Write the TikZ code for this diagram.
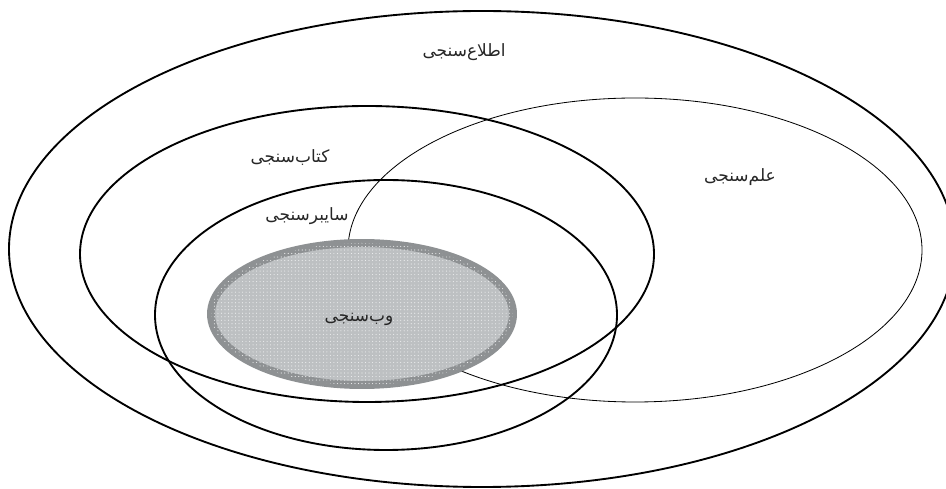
\documentclass[tikz,border=0pt]{standalone}
\usepackage{fontspec}
\newfontfamily\arabicfont[Script=Arabic]{DejaVu Sans}
\TeXXeTstate=1
\usetikzlibrary{patterns}
\definecolor{webfill}{RGB}{189,192,194}
\definecolor{webedge}{RGB}{142,145,147}

\begin{document}
\begin{tikzpicture}
  [x=0.03cm,y=-0.03cm,
field/.style={draw=black,line width=1.6pt},
thinfield/.style={draw=black,line width=0.7pt},
core/.style={draw=webedge,line width=6.8pt,fill=webfill,
postaction={pattern=dots,pattern color=white!70!webfill}},
label/.style={font=\arabicfont\fontsize{14.5}{17}\selectfont,text=black!85,inner sep=1pt}]
  \useasboundingbox (0,0) rectangle (946,489);
  \draw[field] (482,249) ellipse [x radius=473,y radius=238];
  \draw[thinfield] (635,250) ellipse [x radius=287,y radius=152];
  \draw[field] (367,254) ellipse [x radius=287,y radius=148];
  \draw[field] (386,315) ellipse [x radius=231,y radius=135];
  \draw[core] (362,314) ellipse [x radius=151,y radius=71];
  \node[label] (info) at (464,52) {\beginR اطلاع^^^^200cسنجی\endR};
  \node[label] (biblio) at (290,158) {\beginR کتاب^^^^200cسنجی\endR};
  \node[label] (cyber) at (307,216) {\beginR سایبرسنجی\endR};
  \node[label] (sciento) at (740,177) {\beginR علم^^^^200cسنجی\endR};
  \node[label] (web) at (359,319) {\beginR وب^^^^200cسنجی\endR};

\end{tikzpicture}
\end{document}
